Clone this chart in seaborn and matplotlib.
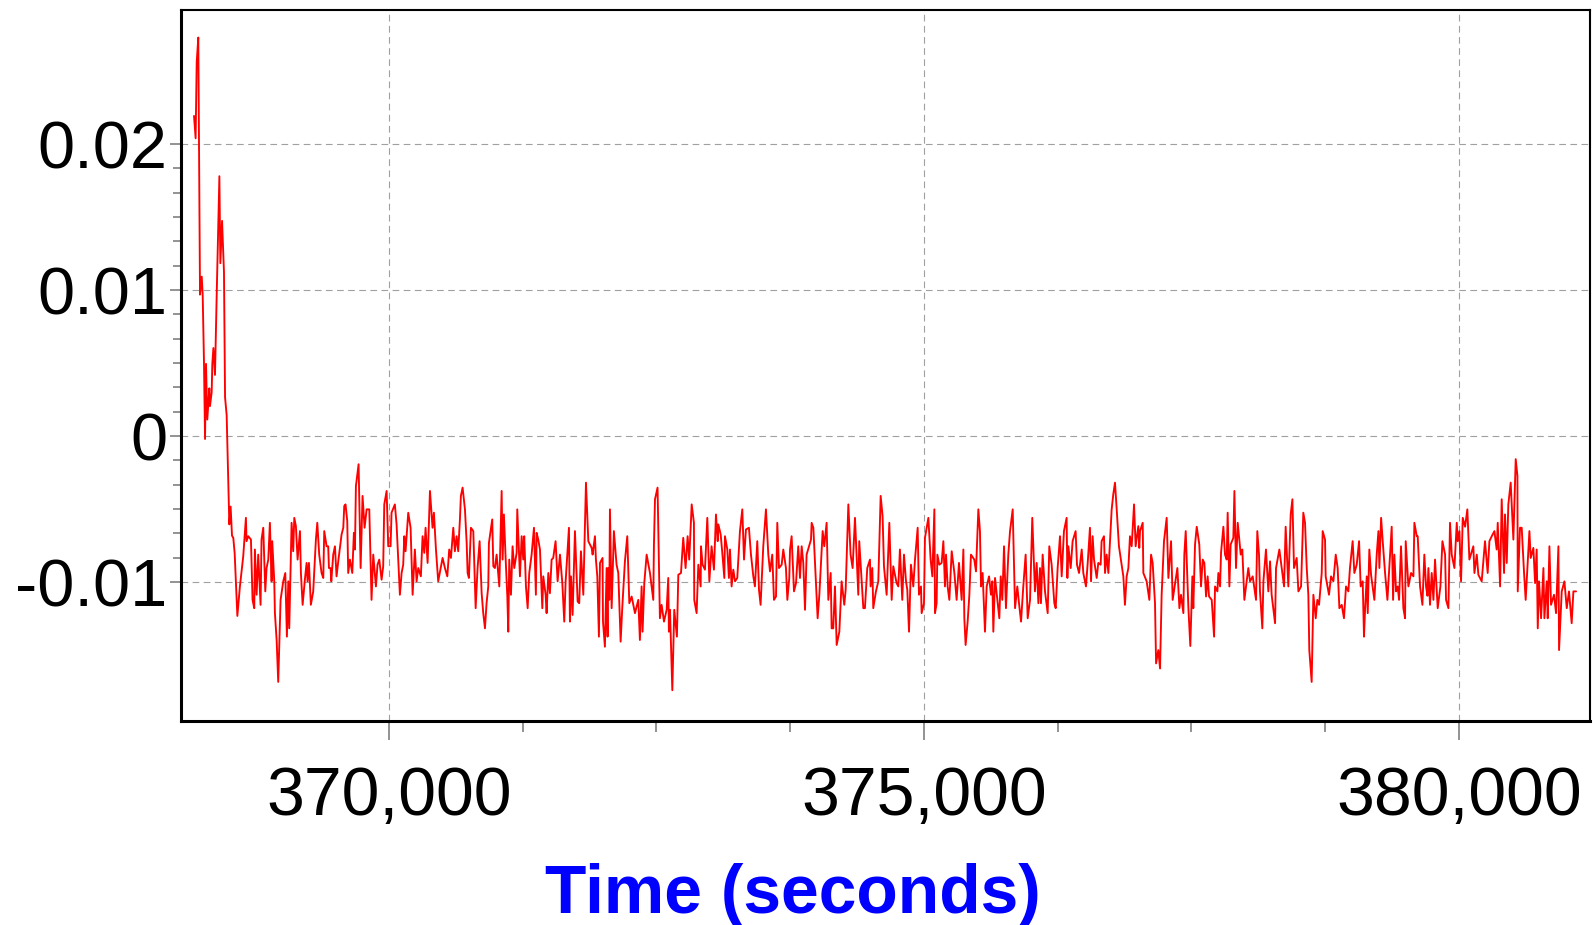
import matplotlib
matplotlib.use("Agg")
import matplotlib.pyplot as plt
import numpy as np
import pandas as pd
import seaborn as sns
from matplotlib.ticker import FixedLocator, FuncFormatter

# -- Data (time in seconds) ----------------------------------------------------

time_s = [
    368178, 368193, 368203, 368218, 368234, 368250, 368259, 368271, 368281, 368290,
    368302, 368321, 368327, 368343, 368349, 368359, 368374, 368390, 368415, 368424,
    368440, 368458, 368468, 368483, 368508, 368520, 368533, 368545, 368558, 368583,
    # segment 2
    368607, 368638, 368663, 368669, 368685, 368710, 368725, 368741, 368747, 368763,
    368778, 368800, 368809, 368825, 368844, 368856, 368872, 368887, 368903, 368909,
    368928, 368934, 368950, 368965, 368987, 369012, 369031, 369046, 369059, 369068,
    369090, 369105, 369115, 369130, 369146, 369168, 369177, 369193, 369214, 369230,
    369239, 369252, 369270, 369292, 369317, 369330, 369348, 369370, 369386, 369395,
    369417, 369432, 369439, 369454, 369461, 369479, 369495, 369510, 369526, 369542,
    369557, 369573, 369582, 369594, 369610, 369619, 369635, 369657, 369672, 369682,
    369691, 369716, 369735, 369753, 369772, 369791, 369816, 369837, 369853, 369878,
    369893, 369909, 369931, 369946, 369956, 369978, 369993, 370015, 370024, 370055,
    370071, 370087, 370102, 370118, 370133, 370143, 370155, 370180, 370202, 370221,
    370242, 370258, 370274, 370298, 370314, 370330, 370342, 370361, 370383, 370407,
    370420, 370439, 370460, 370501, 370523, 370545, 370563, 370579, 370601, 370616,
    370632, 370647, 370663, 370672, 370688, 370710,
    # segment 3
    370726, 370735, 370747, 370766, 370788, 370810, 370828, 370847, 370866, 370881,
    370897, 370912, 370928, 370934, 370965, 370975, 370990, 371006, 371031, 371053,
    371062, 371074, 371090, 371106, 371115, 371124, 371140, 371155, 371171, 371193,
    371199, 371224, 371240, 371255, 371264, 371280, 371296, 371311, 371333, 371355,
    371373, 371380, 371395, 371411, 371433, 371442, 371464, 371473, 371489, 371504,
    371520, 371535, 371557, 371576, 371598, 371620, 371638, 371651, 371682, 371691,
    371701, 371716, 371738, 371763, 371778, 371794, 371816, 371841, 371863, 371894,
    371903, 371925, 371934, 371947, 371962, 371972, 371996, 372000, 372018, 372034,
    372043, 372049, 372059, 372065, 372081, 372102, 372127, 372143, 372165, 372180,
    372205, 372227, 372246, 372268, 372299, 372330, 372345, 372361, 372370, 372386,
    372408, 372439, 372470, 372476, 372486, 372510, 372532, 372548, 372570, 372595,
    372610, 372616, 372626, 372648, 372666, 372691, 372704, 372729, 372750, 372772,
    372791, 372806,
    # segment 4
    372829, 372850, 372853, 372875, 372891, 372913, 372916, 372931, 372953, 372975,
    372994, 373015, 373037, 373056, 373072, 373078, 373100, 373115, 373134, 373140,
    373162, 373177, 373187, 373202, 373218, 373234, 373255, 373280, 373302, 373318,
    373336, 373364, 373383, 373405, 373420, 373442, 373458, 373473, 373498, 373523,
    373545, 373561, 373582, 373598, 373617, 373629, 373645, 373670, 373685, 373710,
    373723, 373741, 373748, 373763, 373785, 373804, 373825, 373841, 373857, 373872,
    373888, 373903, 373944, 373950, 373966, 374006, 374022, 374053, 374068, 374090,
    374106, 374128, 374137, 374152, 374168, 374184, 374209, 374230, 374255, 374268,
    374293, 374314, 374333, 374355, 374386, 374395, 374433, 374448, 374470, 374495,
    374501, 374517, 374526, 374551, 374573, 374595, 374613, 374626, 374651, 374676,
    374698, 374713, 374744, 374760, 374775, 374797, 374813, 374832, 374844, 374860,
    374878, 374900,
    # segment 5
    374916, 374941, 374953, 374972, 374978, 375000, 375009, 375041, 375062, 375078,
    375097, 375103, 375118, 375125, 375143, 375165, 375181, 375196, 375206, 375221,
    375237, 375259, 375284, 375305, 375327, 375352, 375368, 375377, 375389, 375408,
    375424, 375439, 375470, 375486, 375508, 375523, 375533, 375548, 375570, 375586,
    375608, 375626, 375639, 375648, 375664, 375704, 375717, 375732, 375748, 375766,
    375788, 375804, 375829, 375851, 375872, 375888, 375907, 375928, 375950, 375969,
    375991, 376012, 376037, 376053, 376069, 376084, 376093, 376109, 376131, 376156,
    376171, 376193, 376218, 376231, 376249, 376271, 376287, 376308, 376333, 376340,
    376349, 376371, 376389, 376417, 376430, 376449, 376474, 376489, 376514, 376530,
    376551, 376561, 376576, 376589, 376614, 376629, 376651, 376660, 376682, 376692,
    376707, 376723, 376754, 376769, 376785, 376801, 376822, 376847, 376863, 376878,
    376894, 376910, 376925, 376941, 376963, 376978, 377003, 377012,
    # segment 6
    377019, 377044, 377050, 377081, 377106, 377122, 377137, 377159, 377169, 377190,
    377206, 377221, 377243, 377268, 377284, 377309, 377324, 377368, 377387, 377402,
    377424, 377433, 377446, 377471, 377489, 377508, 377517, 377533, 377549, 377573,
    377589, 377605, 377620, 377636, 377651, 377664, 377689, 377711, 377720, 377742,
    377751, 377767, 377776, 377798, 377813, 377829, 377838, 377854, 377866, 377891,
    377901, 377916, 377932, 377960, 377975, 377994, 378016, 378031, 378047, 378072,
    378103, 378115, 378131, 378140, 378162, 378172, 378196, 378218, 378234, 378249,
    378281, 378290, 378321, 378343, 378365, 378380, 378405, 378427, 378443, 378458,
    378483, 378499, 378524, 378545, 378561, 378577, 378592, 378601, 378623, 378639,
    378661, 378676, 378692, 378717, 378726, 378748, 378754, 378785, 378804, 378826,
    378848, 378866, 378882, 378904, 378925, 378944, 378966, 378981, 379006, 379022,
    379044, 379066, 379081, 379100, 379112,
    # segment 7
    379122, 379138, 379147, 379162, 379178, 379209, 379231, 379247, 379256, 379272,
    379287, 379309, 379331, 379371, 379384, 379396, 379412, 379427, 379440, 379458,
    379480, 379496, 379502, 379527, 379552, 379574, 379583, 379605, 379614, 379636,
    379658, 379676, 379692, 379705, 379714, 379729, 379745, 379761, 379776, 379801,
    379826, 379845, 379870, 379879, 379901, 379916, 379932, 379957, 379979, 379988,
    380004, 380019, 380035, 380057, 380078, 380097, 380134, 380144, 380166, 380181,
    380212, 380243, 380268, 380284, 380306, 380331, 380352, 380362, 380384, 380399,
    380421, 380430, 380446, 380461, 380483, 380508, 380530, 380546, 380549, 380570,
    380586, 380608, 380623, 380639, 380658, 380670, 380695, 380711, 380726, 380736,
    380748, 380767, 380789, 380798, 380820, 380829, 380845, 380860, 380888, 380907,
    380929, 380935, 380960, 380985, 381007, 381028, 381053, 381069, 381094,
]

signal = [
    0.02193, 0.02040, 0.02560, 0.02730, 0.00969, 0.01092, 0.00969, 0.00510, -0.00020, 0.00495,
    0.00113, 0.00327, 0.00205, 0.00300, 0.00495, 0.00603, 0.00419, 0.00969, 0.01780, 0.01184,
    0.01474, 0.01122, 0.00266, 0.00144, -0.00605, -0.00483, -0.00682, -0.00697, -0.00804, -0.01232,
    # segment 2
    -0.01030, -0.00823, -0.00560, -0.00720, -0.00686, -0.00709, -0.01122, -0.01179, -0.00777, -0.01087,
    -0.00812, -0.01156, -0.00709, -0.00628, -0.01064, -0.00904, -0.00846, -0.00594, -0.00995, -0.00720,
    -0.00995, -0.01213, -0.01397, -0.01684, -0.01122, -0.00995, -0.00938, -0.01374, -0.00995, -0.01317,
    -0.00594, -0.00789, -0.00560, -0.00617, -0.00846, -0.00651, -0.00938, -0.01156, -0.00984, -0.00869,
    -0.00995, -0.00869, -0.01156, -0.01064, -0.00709, -0.00594, -0.00812, -0.00938, -0.00972, -0.00651,
    -0.00755, -0.00755, -0.00904, -0.00904, -0.00995, -0.00812, -0.00755, -0.00961, -0.00858, -0.00766,
    -0.00674, -0.00628, -0.00479, -0.00468, -0.00582, -0.00938, -0.00846, -0.00938, -0.00663, -0.00777,
    -0.00342, -0.00193, -0.00904, -0.00410, -0.00628, -0.00502, -0.00502, -0.01122, -0.00812, -0.01030,
    -0.00881, -0.00846, -0.00984, -0.00892, -0.00468, -0.00376, -0.00755, -0.00755, -0.00525, -0.00468,
    -0.00605, -0.00846, -0.01087, -0.00938, -0.00881, -0.00686, -0.00789, -0.00525, -0.00628, -0.01087,
    -0.00777, -0.00995, -0.00904, -0.00961, -0.00686, -0.00800, -0.00628, -0.00869, -0.00376, -0.00628,
    -0.00525, -0.00777, -0.00995, -0.00835, -0.00904, -0.00961, -0.00777, -0.00835, -0.00628, -0.00789,
    -0.00686, -0.00789, -0.00571, -0.00410, -0.00353, -0.00502,
    # segment 3
    -0.00732, -0.00938, -0.00972, -0.00628, -0.00651, -0.01179, -0.00904, -0.00720, -0.01076, -0.01213,
    -0.01317, -0.01145, -0.01030, -0.00732, -0.00571, -0.00892, -0.00904, -0.00812, -0.01030, -0.00376,
    -0.00846, -0.00537, -0.00835, -0.01099, -0.01340, -0.00846, -0.01087, -0.00755, -0.00904, -0.00800,
    -0.00502, -0.00961, -0.00686, -0.00846, -0.00686, -0.01030, -0.01179, -0.00938, -0.00812, -0.00628,
    -0.01087, -0.00663, -0.00709, -0.00777, -0.01179, -0.00961, -0.01087, -0.01213, -0.00938, -0.01076,
    -0.00846, -0.00835, -0.00720, -0.00995, -0.00812, -0.01007, -0.01271, -0.00995, -0.00628, -0.01271,
    -0.00961, -0.01225, -0.00651, -0.01133, -0.01145, -0.00789, -0.01087, -0.00319, -0.00720, -0.00766,
    -0.00812, -0.00686, -0.00846, -0.00961, -0.01374, -0.00869, -0.00835, -0.01271, -0.01443, -0.00904,
    -0.01374, -0.00904, -0.01122, -0.00502, -0.01179, -0.00651, -0.00881, -0.00938, -0.01408, -0.01179,
    -0.00858, -0.00686, -0.01145, -0.01099, -0.01213, -0.01122, -0.01397, -0.01030, -0.01340, -0.01007,
    -0.00812, -0.00938, -0.01122, -0.00755, -0.00433, -0.00353, -0.01248, -0.01156, -0.01271, -0.01190,
    -0.00972, -0.01340, -0.01190, -0.01741, -0.01190, -0.01374, -0.00950, -0.00938, -0.00697, -0.00904,
    -0.00686, -0.00846,
    # segment 4
    -0.00468, -0.00594, -0.01122, -0.01213, -0.00881, -0.01030, -0.00755, -0.00881, -0.00915, -0.00560,
    -0.00995, -0.00755, -0.00915, -0.00537, -0.00720, -0.00605, -0.00674, -0.00800, -0.00972, -0.00686,
    -0.00777, -0.00972, -0.00777, -0.01030, -0.00915, -0.00995, -0.00972, -0.00651, -0.00502, -0.00846,
    -0.00640, -0.00628, -0.00812, -0.00961, -0.01030, -0.00720, -0.01053, -0.01156, -0.00755, -0.00502,
    -0.00812, -0.00927, -0.00812, -0.01122, -0.01099, -0.00594, -0.00904, -0.00881, -0.00777, -0.00904,
    -0.01122, -0.00972, -0.00777, -0.00686, -0.01064, -0.01007, -0.00755, -0.00972, -0.00755, -0.00869,
    -0.01190, -0.00812, -0.00709, -0.00594, -0.00628, -0.01248, -0.01087, -0.00651, -0.00755, -0.00594,
    -0.01122, -0.00938, -0.01317, -0.01317, -0.01030, -0.01431, -0.01340, -0.00995, -0.01156, -0.01053,
    -0.00468, -0.00812, -0.00904, -0.00560, -0.01087, -0.00720, -0.01179, -0.01179, -0.00904, -0.00846,
    -0.01030, -0.00904, -0.01179, -0.01064, -0.00995, -0.00410, -0.00548, -0.00892, -0.01087, -0.00594,
    -0.01122, -0.00892, -0.01007, -0.01030, -0.00777, -0.01122, -0.00812, -0.00995, -0.01053, -0.01340,
    -0.00881, -0.01030,
    # segment 5
    -0.00846, -0.00628, -0.01087, -0.01030, -0.01213, -0.01145, -0.00697, -0.00560, -0.00846, -0.00961,
    -0.00502, -0.01213, -0.01145, -0.00812, -0.00881, -0.00869, -0.00720, -0.01030, -0.00812, -0.01030,
    -0.01122, -0.00789, -0.00938, -0.01122, -0.00869, -0.01122, -0.00777, -0.01248, -0.01431, -0.01271,
    -0.01087, -0.00812, -0.00846, -0.00927, -0.00502, -0.00651, -0.01030, -0.00938, -0.01340, -0.01030,
    -0.00961, -0.01087, -0.00995, -0.01340, -0.00972, -0.01248, -0.00961, -0.01122, -0.00755, -0.01179,
    -0.00812, -0.00651, -0.00502, -0.01179, -0.01030, -0.01145, -0.01271, -0.01030, -0.00812, -0.01248,
    -0.01122, -0.00560, -0.01064, -0.00869, -0.01145, -0.00904, -0.01145, -0.00812, -0.01064, -0.01213,
    -0.00755, -0.00881, -0.01145, -0.01179, -0.00904, -0.00686, -0.00961, -0.00651, -0.00560, -0.00972,
    -0.00755, -0.00904, -0.00720, -0.00651, -0.00881, -0.00938, -0.00777, -0.00938, -0.01030, -0.00869,
    -0.00628, -0.00995, -0.00686, -0.00846, -0.00972, -0.00869, -0.00881, -0.00720, -0.00686, -0.00938,
    -0.00812, -0.00938, -0.00502, -0.00399, -0.00319, -0.00502, -0.00755, -0.00881, -0.00961, -0.01156,
    -0.00961, -0.00904, -0.00686, -0.00755, -0.00468, -0.00755, -0.00617, -0.00766,
    # segment 6
    -0.00651, -0.00594, -0.00938, -0.00995, -0.01122, -0.00812, -0.00869, -0.01145, -0.01557, -0.01466,
    -0.01592, -0.01087, -0.00720, -0.00560, -0.00972, -0.00720, -0.01122, -0.00904, -0.01179, -0.01087,
    -0.01213, -0.00812, -0.00651, -0.01179, -0.01438, -0.00961, -0.01179, -0.00743, -0.00621, -0.00743,
    -0.01030, -0.00846, -0.00869, -0.01099, -0.00961, -0.01099, -0.01122, -0.01374, -0.01030, -0.01064,
    -0.00938, -0.01030, -0.00800, -0.00621, -0.00812, -0.00846, -0.00525, -0.01030, -0.00743, -0.00697,
    -0.00376, -0.00904, -0.00594, -0.00812, -0.00777, -0.01122, -0.00995, -0.00904, -0.00995, -0.00961,
    -0.01122, -0.00651, -0.00812, -0.01064, -0.01317, -0.00995, -0.00777, -0.01064, -0.00858, -0.01087,
    -0.01282, -0.00904, -0.00777, -0.00904, -0.01030, -0.00621, -0.01030, -0.00537, -0.00433, -0.00904,
    -0.00835, -0.01064, -0.01030, -0.00525, -0.00594, -0.00904, -0.01087, -0.01466, -0.01684, -0.01087,
    -0.01248, -0.01122, -0.01156, -0.00938, -0.00651, -0.00709, -0.00961, -0.01087, -0.00961, -0.00995,
    -0.00812, -0.00904, -0.01179, -0.01156, -0.01248, -0.01030, -0.01064, -0.00904, -0.00720, -0.00938,
    -0.00881, -0.00720, -0.01030, -0.00995, -0.01374,
    # segment 7
    -0.01190, -0.00961, -0.01213, -0.00777, -0.00950, -0.01122, -0.00812, -0.00651, -0.00904, -0.00560,
    -0.00720, -0.00938, -0.01122, -0.00621, -0.01122, -0.00812, -0.01064, -0.01030, -0.01122, -0.00755,
    -0.01179, -0.01248, -0.00720, -0.01030, -0.00938, -0.00961, -0.00594, -0.00686, -0.00686, -0.01030,
    -0.01156, -0.00812, -0.01030, -0.01094, -0.00904, -0.01156, -0.00938, -0.01122, -0.00846, -0.01179,
    -0.01030, -0.00720, -0.00812, -0.01122, -0.01179, -0.00594, -0.00812, -0.00904, -0.00594, -0.00720,
    -0.00651, -0.00995, -0.00560, -0.00621, -0.00502, -0.00846, -0.00755, -0.00938, -0.00812, -0.00950,
    -0.00995, -0.00720, -0.00938, -0.00720, -0.00686, -0.00651, -0.00777, -0.00594, -0.01030, -0.00433,
    -0.00938, -0.00537, -0.00869, -0.00468, -0.00319, -0.00709, -0.00158, -0.00273, -0.01064, -0.00628,
    -0.00628, -0.00938, -0.01122, -0.00904, -0.00651, -0.00835, -0.00766, -0.01007, -0.00777, -0.01317,
    -0.00995, -0.01248, -0.00904, -0.01248, -0.00995, -0.01248, -0.00755, -0.01156, -0.01087, -0.01213,
    -0.00755, -0.01466, -0.01064, -0.00995, -0.01179, -0.01064, -0.01282, -0.01064, -0.01064,
]

x_major = [370000, 375000, 380000]
x_minor = [371250, 372500, 373750, 376250, 377500, 378750]
y_major = [-0.01, 0.0, 0.01, 0.02]
x_limits = (368056, 381224)
y_limits = (-0.01952, 0.02918)
x_label = "Time (seconds)"

assert len(time_s) == len(signal), (len(time_s), len(signal))

# -- Style ---------------------------------------------------------------------

sns.set_theme(style="white")
plt.rcParams["font.family"] = ["Liberation Sans", "DejaVu Sans"]

df = pd.DataFrame({"time_s": time_s, "signal": signal})

fig = plt.figure(figsize=(15.93, 9.25), dpi=100)
ax = fig.add_axes([0.1136, 0.2205, 0.8845, 0.7686])

sns.lineplot(data=df, x="time_s", y="signal", color="#ff0000", linewidth=1.35,
             estimator=None, sort=False, ax=ax)

ax.set_xlim(*x_limits)
ax.set_ylim(*y_limits)

ax.xaxis.set_major_locator(FixedLocator(x_major))
ax.xaxis.set_minor_locator(FixedLocator(x_minor))
ax.yaxis.set_major_locator(FixedLocator(y_major))
ax.yaxis.set_minor_locator(FixedLocator(np.linspace(-0.01, 0.02, 19)))
ax.xaxis.set_major_formatter(FuncFormatter(lambda v, _: f"{v:,.0f}"))
ax.yaxis.set_major_formatter(FuncFormatter(lambda v, _: f"{v:g}"))

ax.grid(True, which="major", color="#a0a0a0", linestyle=(0, (6, 4)), linewidth=0.8)
ax.set_axisbelow(True)

ax.tick_params(axis="x", which="major", bottom=True, length=14, width=1.2,
               color="#808080", pad=18, labelsize=49, labelcolor="black")
ax.tick_params(axis="x", which="minor", bottom=True, length=8, width=1.2, color="#808080")
ax.tick_params(axis="y", which="major", left=True, length=8, width=1.2,
               color="#808080", pad=2, labelsize=48, labelcolor="black")
ax.tick_params(axis="y", which="minor", left=True, length=5.5, width=1.2, color="#808080")

for side in ("left", "bottom"):
    ax.spines[side].set_color("black")
    ax.spines[side].set_linewidth(2.2)
for side in ("top", "right"):
    ax.spines[side].set_color("black")
    ax.spines[side].set_linewidth(1.5)

ax.set_ylabel("")
ax.set_xlabel(x_label, fontsize=48.8, fontweight="bold", color="#0000ff")
ax.xaxis.set_label_coords(0.434, -0.245)
ax.xaxis.label.set_va("center")

fig.savefig("out.png", dpi=100)
